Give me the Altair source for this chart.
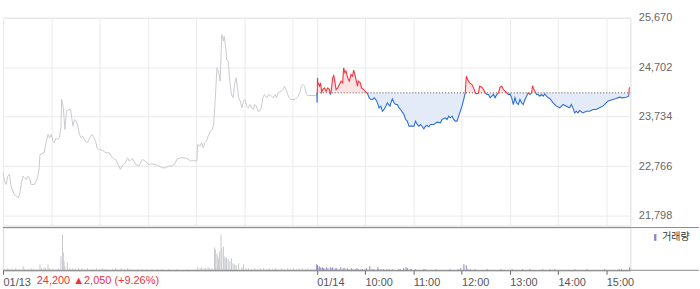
import altair as alt
import pandas as pd

# ---------------- data ----------------
# minutes since 09:00 of 01/13 (day 1 = 0..390, day 2 = 390..780)
d1_min = [0, 2, 4, 6, 8, 10, 14, 19, 21, 23, 25, 27, 29, 31, 33, 35, 39, 41, 43, 45,
          46, 51, 54, 56, 58, 60, 62, 64, 66, 68, 70, 72, 73, 75, 77, 79, 82, 84, 87, 89,
          91, 93, 95, 97, 99, 101, 105, 109, 111, 113, 115, 117, 119, 124, 128, 132, 136, 140, 144, 146,
          148, 152, 155, 157, 161, 165, 169, 173, 177, 181, 185, 190, 194, 198, 202, 206, 210, 214, 216, 220,
          225, 229, 233, 237, 241, 242, 245, 247, 249, 251, 253, 255, 258, 260, 262, 264, 266, 268, 270, 272,
          274, 275, 277, 278, 280, 282, 284, 286, 288, 290, 293, 295, 297, 299, 301, 303, 305, 307, 309, 311,
          313, 315, 317, 319, 321, 323, 325, 328, 330, 334, 336, 338, 340, 342, 346, 348, 350, 352, 354, 356,
          358, 363, 367, 369, 371, 373, 375, 377, 379, 389]
d1_price = [22635, 22472, 22407, 22570, 22603, 22375, 22212, 22146, 22244, 22440, 22570, 22537, 22505, 22570, 22537, 22407, 22407, 22472, 22537, 22733,
            22994, 23026, 23255, 23385, 23320, 23385, 23255, 23222, 23320, 23287, 23320, 23515, 24070, 23907, 23483, 23841, 23874, 23874, 23548, 23678,
            23646, 23548, 23385, 23320, 23352, 23287, 23222, 23352, 23385, 23320, 23255, 23124, 23092, 23072, 23026, 23026, 22929, 22896, 22766, 22701,
            22766, 22831, 22929, 22863, 22916, 22798, 22766, 22896, 22863, 22798, 22811, 22798, 22766, 22733, 22733, 22766, 22766, 22811, 22896, 22929,
            22929, 22916, 22863, 22877, 22863, 23189, 23157, 23222, 23124, 23222, 23255, 23352, 23450, 23483, 23581, 24102, 24689, 24624, 24428, 25341,
            25211, 25308, 25080, 24852, 24819, 24428, 24167, 24102, 24363, 24493, 24102, 24037, 23907, 24037, 24070, 23939, 23907, 23972, 23907, 23874,
            23972, 23939, 23841, 23841, 23907, 24102, 24167, 24102, 24167, 24135, 24102, 24167, 24102, 24200, 24233, 24265, 24330, 24265, 24167, 24102,
            24070, 24070, 24135, 24200, 24330, 24363, 24330, 24167, 24148, 24148]

d2_min = [390.2, 390.5, 391.0, 391.4, 393.5, 394.7, 396.3, 397.6, 399.6, 401.7, 403.8, 405.8, 407.1, 407.9, 409.9, 411.2, 412.8, 414.1, 416.1, 418.2,
          420.2, 422.3, 423.5, 425.2, 426.4, 428.5, 430.5, 432.6, 434.7, 435.9, 437.5, 438.8, 440.8, 441.7, 444.1, 445.8, 448.3, 451.1, 453.2, 455.3,
          457.3, 459.4, 461.4, 463.5, 465.6, 467.6, 469.7, 471.7, 473.8, 475.9, 477.9, 479.2, 481.2, 482.9, 484.1, 486.2, 488.2, 490.3, 492.3, 494.4,
          496.5, 498.5, 500.6, 502.6, 504.7, 506.8, 510.9, 512.9, 515.0, 517.1, 519.1, 523.2, 525.3, 527.4, 529.4, 531.5, 535.6, 539.7, 543.8, 545.9,
          550.0, 552.1, 554.1, 556.2, 558.3, 560.3, 562.4, 564.4, 566.5, 568.6, 570.6, 572.7, 574.7, 576.0, 577.6, 580.1, 583.0, 585.0, 587.1, 589.2,
          591.2, 592.5, 595.3, 597.4, 599.5, 601.5, 603.6, 605.6, 607.7, 609.8, 611.8, 613.9, 615.9, 618.0, 620.1, 622.1, 624.2, 626.2, 628.3, 630.4,
          632.4, 634.5, 636.5, 638.6, 640.7, 642.7, 644.8, 646.8, 648.9, 651.0, 653.0, 655.1, 657.1, 658.4, 659.2, 661.3, 663.3, 665.4, 667.4, 669.5,
          671.6, 673.6, 675.7, 677.7, 679.8, 683.9, 688.0, 692.2, 696.3, 700.4, 704.5, 706.6, 708.6, 710.7, 712.8, 714.8, 716.9, 721.0, 725.1, 729.2,
          733.4, 737.5, 741.6, 745.7, 747.8, 749.8, 751.9, 754.0, 758.1, 762.2, 766.3, 770.4, 774.6, 777.9, 778.7]
d2_price = [24200, 24004, 24493, 24408, 24330, 24395, 24213, 24265, 24298, 24232, 24298, 24265, 24167, 24213, 24493, 24539, 24395, 24265, 24298, 24363,
            24428, 24395, 24689, 24591, 24624, 24493, 24428, 24558, 24526, 24643, 24558, 24461, 24330, 24428, 24395, 24298, 24265, 24213, 24187, 24102,
            24069, 24069, 24102, 24069, 24004, 23906, 23939, 23841, 23874, 23939, 24004, 23972, 23939, 24037, 24082, 24004, 23972, 23972, 23906, 23874,
            23822, 23776, 23678, 23646, 23548, 23548, 23548, 23646, 23580, 23548, 23580, 23496, 23548, 23561, 23535, 23580, 23580, 23626, 23613, 23678,
            23711, 23678, 23743, 23711, 23743, 23678, 23646, 23646, 23743, 23841, 23939, 24069, 24200, 24526, 24460, 24395, 24363, 24297, 24200, 24180,
            24200, 24330, 24310, 24265, 24200, 24167, 24167, 24102, 24134, 24167, 24102, 24167, 24200, 24310, 24330, 24265, 24232, 24200, 24167, 24180,
            24102, 23971, 24102, 24004, 23971, 24069, 24004, 23971, 24069, 24134, 24200, 24167, 24200, 24343, 24297, 24232, 24167, 24167, 24134, 24167,
            24134, 24180, 24134, 24102, 24089, 24004, 23939, 23906, 23971, 23939, 23906, 23971, 23906, 23808, 23841, 23808, 23854, 23808, 23841, 23841,
            23874, 23874, 23906, 23939, 23971, 24004, 24037, 24050, 24069, 24089, 24115, 24102, 24115, 24134, 24310]

base_price = 24200

# volume (thousand shares)
v1_min = [1, 4, 6, 9, 12, 16, 20, 25, 27, 31, 35, 38, 42, 46, 48, 51, 53, 56, 58, 62,
          66, 69, 72, 74, 75, 76, 77, 80, 83, 87, 90, 94, 98, 101, 105, 109, 112, 116, 120, 124,
          127, 131, 136, 140, 143, 147, 151, 155, 158, 162, 167, 173, 179, 185, 192, 198, 206, 216, 229, 242,
          245, 247, 250, 252, 255, 257, 260, 263, 264, 266, 267, 268, 269, 271, 272, 274, 275, 277, 278, 280,
          282, 284, 286, 288, 290, 293, 297, 299, 302, 305, 309, 313, 316, 320, 324, 328, 331, 335, 339, 342,
          346, 350, 354, 357, 361, 365, 368, 372, 376, 379, 383, 387]
v1_k = [5, 5, 10, 5, 5, 10, 5, 20, 5, 5, 10, 5, 5, 30, 10, 15, 10, 30, 10, 10,
        5, 10, 70, 180, 90, 45, 20, 40, 10, 10, 5, 10, 10, 5, 10, 5, 5, 10, 5, 10,
        5, 5, 5, 10, 5, 10, 5, 10, 5, 5, 5, 5, 5, 5, 5, 5, 5, 5, 5, 15,
        10, 15, 10, 10, 15, 10, 10, 115, 105, 85, 70, 55, 95, 180, 110, 120, 70, 60, 65, 55,
        45, 60, 35, 30, 25, 35, 15, 30, 10, 10, 5, 10, 5, 10, 10, 5, 10, 5, 10, 5,
        10, 5, 10, 5, 10, 5, 10, 10, 5, 10, 5, 5]

v2_min = [390, 391, 393, 394, 395, 397, 398, 399, 402, 404, 407, 409, 410, 413, 415, 418, 420, 423, 425, 428,
          430, 433, 435, 438, 440, 442, 445, 447, 450, 452, 456, 459, 461, 466, 467, 470, 473, 477, 480, 484,
          492, 494, 498, 501, 503, 506, 508, 513, 523, 525, 538, 556, 566, 569, 573, 576, 578, 581, 587, 602,
          619, 633, 646, 655, 671, 680, 686, 711, 726, 748, 766, 769, 779]
v2_k = [30, 25, 20, 15, 10, 15, 10, 10, 15, 10, 15, 10, 15, 10, 10, 5, 15, 10, 10, 10,
        5, 10, 5, 5, 10, 5, 5, 5, 5, 10, 20, 5, 5, 15, 5, 5, 5, 5, 5, 5,
        5, 5, 10, 15, 10, 5, 5, 5, 5, 5, 5, 5, 5, 10, 30, 25, 5, 5, 5, 5,
        5, 5, 5, 5, 5, 5, 5, 5, 5, 5, 5, 5, 15]

y_ticks = [21798, 22766, 23734, 24702, 25670]
x_grid = [0, 60, 120, 180, 240, 300, 360, 390, 450, 510, 570, 630, 690, 750]
x_tick_vals = [0, 390, 450, 510, 570, 630, 690, 750]
x_tick_labels = ["01/13", "01/14", "10:00", "11:00", "12:00", "13:00", "14:00", "15:00"]
last_price_txt = "24,200"
change_txt = "▲2,050"
pct_txt = "(+9.26%)"
volume_label = "거래량"

# ---------------- build ----------------
FONT = "Liberation Sans"
RED, BLUE = "#f5333f", "#2f6fd8"
RED_FILL, BLUE_FILL = "#fde3e4", "#e3ebf8"
GRID = "#ebebeb"
SEP = "#8c8c8c"
PW, PH, VH = 631, 209, 43

day1 = pd.DataFrame({"t": d1_min, "p": d1_price})
day2 = pd.DataFrame({"t": d2_min, "p": d2_price})
vol1 = pd.DataFrame({"t": v1_min, "v": v1_k})
vol2 = pd.DataFrame({"t": v2_min, "v": v2_k, "s": [volume_label] * len(v2_min)})
base_df = pd.DataFrame({"t0": [d2_min[0]], "t1": [780], "b": [base_price]})

pmax, pmin = max(d2_price), min(d2_price)
f = (pmax - base_price) / (pmax - pmin)


def grad(c_top, c_bot):
    return alt.Gradient(
        gradient="linear", x1=0, x2=0, y1=0, y2=1,
        stops=[alt.GradientStop(color=c_top, offset=0), alt.GradientStop(color=c_top, offset=f),
               alt.GradientStop(color=c_bot, offset=f), alt.GradientStop(color=c_bot, offset=1)])


xs = alt.Scale(domain=[0, 780], nice=False, zero=False, padding=0)
ys = alt.Scale(domain=[21603, 25670], nice=False, zero=False)

x_price = alt.X("t:Q", scale=xs, axis=alt.Axis(values=x_grid, labels=False, ticks=False, domain=False,
                                               grid=True, gridColor=GRID, title=None))
y_price = alt.Y("p:Q", scale=ys, axis=alt.Axis(orient="right", values=y_ticks, format=",d", grid=True,
                                               gridColor=GRID, ticks=False, domain=False, labelPadding=8,
                                               labelColor="#666", labelFontSize=11, labelFont=FONT, title=None))

area2 = alt.Chart(day2).mark_area(fill=grad(RED_FILL, BLUE_FILL), opacity=1).encode(
    x=x_price, y=y_price, y2=alt.datum(base_price))
line1 = alt.Chart(day1).mark_line(color="#c9cbcf", strokeWidth=1).encode(x=x_price, y=y_price)
base_rule = alt.Chart(base_df).mark_rule(color="#555", strokeDash=[1, 2], strokeWidth=1).encode(
    x=alt.X("t0:Q", scale=xs), x2="t1:Q", y=alt.Y("b:Q", scale=ys))
line2 = alt.Chart(day2).mark_line(stroke=grad(RED, BLUE), strokeWidth=1.1).encode(x=x_price, y=y_price)

price = alt.layer(area2, line1, base_rule, line2).properties(width=PW, height=PH)

label_expr = " : ".join(f"datum.value == {v} ? '{l}'" for v, l in zip(x_tick_vals, x_tick_labels)) + " : ''"
x_vol = alt.X("t:Q", scale=xs, axis=alt.Axis(values=x_tick_vals, labelExpr=label_expr, grid=False,
                                             tickSize=4, tickColor="#666", domainColor=SEP, labelAlign="left",
                                             labelPadding=2, labelColor="#555", labelFontSize=11, labelFont=FONT,
                                             labelFlush=False, labelOverlap=False, title=None))
vs = alt.Scale(domain=[0, 215], nice=False)

bars1 = alt.Chart(vol1).mark_bar(width=1, color="#c8c9cd").encode(
    x=x_vol, y=alt.Y("v:Q", scale=vs, axis=None))
bars2 = alt.Chart(vol2).mark_bar(width=1).encode(
    x=x_vol, y=alt.Y("v:Q", scale=vs, axis=None),
    color=alt.Color("s:N", scale=alt.Scale(domain=[volume_label], range=["#8e82c4"]),
                    legend=alt.Legend(orient="none", legendX=651, legendY=216, title=None,
                                      symbolType="M-0.35,-1L0.35,-1L0.35,1L-0.35,1Z", symbolSize=45,
                                      symbolStrokeWidth=0, labelFont="Noto Sans CJK KR", labelFontSize=10,
                                      labelColor="#333", padding=0, labelOffset=2)))
top_rule = alt.Chart(base_df).mark_rule(color=SEP, strokeWidth=1).encode(
    x=alt.value(0), x2=alt.value(700), y=alt.value(0))
bot_rule = alt.Chart(base_df).mark_rule(color=SEP, strokeWidth=1).encode(
    x=alt.value(0), x2=alt.value(700), y=alt.value(VH))
info = alt.Chart(base_df).mark_text(align="left", baseline="middle", color="#f0303a", fontSize=11, font=FONT).encode(
    x=alt.value(34), y=alt.value(VH + 11), text=alt.value(f"{last_price_txt} {change_txt} {pct_txt}"))

volume = alt.layer(bars1, bars2, top_rule, bot_rule, info).properties(width=PW, height=VH)

chart = alt.vconcat(price, volume, spacing=0).properties(
    padding={"left": 0, "top": 10, "right": 0, "bottom": 0}
).configure_view(stroke=None).configure(background="white")

chart.save("out.html", embed_options={"renderer": "svg", "actions": False})
